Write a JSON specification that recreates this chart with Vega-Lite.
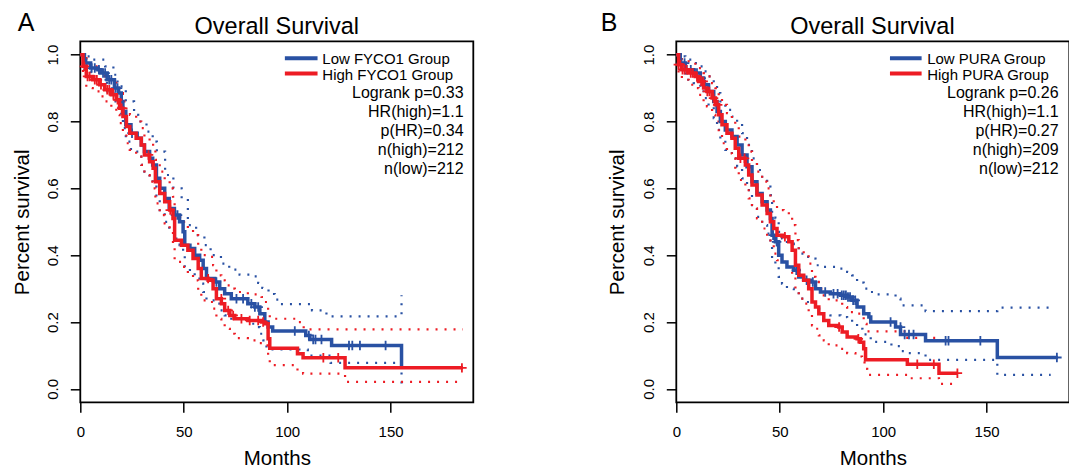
{
"$schema":"https://vega.github.io/schema/vega-lite/v6.json",
"autosize":{"type":"pad"},
"padding":{"left":10.3,"top":9.3,"right":0,"bottom":0},
"background":"white",
"bounds":"flush",
"spacing":203,
"datasets":{
"km":[
{"p":"A","g":"low","k":"curve","t":0,"s":1},{"p":"A","g":"low","k":"curve","t":2,"s":0.975},{"p":"A","g":"low","k":"curve","t":5,"s":0.96},{"p":"A","g":"low","k":"curve","t":8.5,"s":0.955},{"p":"A","g":"low","k":"curve","t":10,"s":0.945},{"p":"A","g":"low","k":"curve","t":13,"s":0.925},{"p":"A","g":"low","k":"curve","t":16.5,"s":0.9},{"p":"A","g":"low","k":"curve","t":18.5,"s":0.885},{"p":"A","g":"low","k":"curve","t":19.8,"s":0.86},{"p":"A","g":"low","k":"curve","t":20.6,"s":0.83},{"p":"A","g":"low","k":"curve","t":22,"s":0.79},{"p":"A","g":"low","k":"curve","t":24.5,"s":0.765},{"p":"A","g":"low","k":"curve","t":27.5,"s":0.75},{"p":"A","g":"low","k":"curve","t":29.5,"s":0.73},{"p":"A","g":"low","k":"curve","t":31,"s":0.71},{"p":"A","g":"low","k":"curve","t":33.5,"s":0.69},{"p":"A","g":"low","k":"curve","t":35,"s":0.67},{"p":"A","g":"low","k":"curve","t":36.8,"s":0.63},{"p":"A","g":"low","k":"curve","t":38.4,"s":0.6},{"p":"A","g":"low","k":"curve","t":40.8,"s":0.57},{"p":"A","g":"low","k":"curve","t":43,"s":0.54},{"p":"A","g":"low","k":"curve","t":45.5,"s":0.52},{"p":"A","g":"low","k":"curve","t":48,"s":0.5},{"p":"A","g":"low","k":"curve","t":49.7,"s":0.47},{"p":"A","g":"low","k":"curve","t":50.5,"s":0.43},{"p":"A","g":"low","k":"curve","t":53,"s":0.42},{"p":"A","g":"low","k":"curve","t":55.3,"s":0.4},{"p":"A","g":"low","k":"curve","t":57.7,"s":0.385},{"p":"A","g":"low","k":"curve","t":59.4,"s":0.36},{"p":"A","g":"low","k":"curve","t":61,"s":0.33},{"p":"A","g":"low","k":"curve","t":65,"s":0.32},{"p":"A","g":"low","k":"curve","t":67.4,"s":0.3},{"p":"A","g":"low","k":"curve","t":69.8,"s":0.285},{"p":"A","g":"low","k":"curve","t":73,"s":0.27},{"p":"A","g":"low","k":"curve","t":81,"s":0.255},{"p":"A","g":"low","k":"curve","t":84.4,"s":0.245},{"p":"A","g":"low","k":"curve","t":86.8,"s":0.225},{"p":"A","g":"low","k":"curve","t":89.2,"s":0.2},{"p":"A","g":"low","k":"curve","t":90.8,"s":0.185},{"p":"A","g":"low","k":"curve","t":93,"s":0.173},{"p":"A","g":"low","k":"curve","t":109,"s":0.16},{"p":"A","g":"low","k":"curve","t":111,"s":0.148},{"p":"A","g":"low","k":"curve","t":121.5,"s":0.13},{"p":"A","g":"low","k":"curve","t":155.3,"s":0.063},

{"p":"A","g":"low","k":"up","t":0,"s":1},{"p":"A","g":"low","k":"up","t":3,"s":0.995},{"p":"A","g":"low","k":"up","t":6,"s":0.985},{"p":"A","g":"low","k":"up","t":12,"s":0.965},{"p":"A","g":"low","k":"up","t":16,"s":0.94},{"p":"A","g":"low","k":"up","t":18,"s":0.905},{"p":"A","g":"low","k":"up","t":22,"s":0.86},{"p":"A","g":"low","k":"up","t":26,"s":0.82},{"p":"A","g":"low","k":"up","t":28,"s":0.8},{"p":"A","g":"low","k":"up","t":32,"s":0.77},{"p":"A","g":"low","k":"up","t":35,"s":0.74},{"p":"A","g":"low","k":"up","t":37,"s":0.71},{"p":"A","g":"low","k":"up","t":41,"s":0.64},{"p":"A","g":"low","k":"up","t":45,"s":0.6},{"p":"A","g":"low","k":"up","t":49,"s":0.57},{"p":"A","g":"low","k":"up","t":52,"s":0.49},{"p":"A","g":"low","k":"up","t":56,"s":0.46},{"p":"A","g":"low","k":"up","t":60,"s":0.43},{"p":"A","g":"low","k":"up","t":63,"s":0.4},{"p":"A","g":"low","k":"up","t":68,"s":0.375},{"p":"A","g":"low","k":"up","t":72,"s":0.357},{"p":"A","g":"low","k":"up","t":77,"s":0.342},{"p":"A","g":"low","k":"up","t":83,"s":0.337},{"p":"A","g":"low","k":"up","t":86,"s":0.317},{"p":"A","g":"low","k":"up","t":88,"s":0.302},{"p":"A","g":"low","k":"up","t":91,"s":0.284},{"p":"A","g":"low","k":"up","t":94,"s":0.267},{"p":"A","g":"low","k":"up","t":96,"s":0.254},{"p":"A","g":"low","k":"up","t":112,"s":0.235},{"p":"A","g":"low","k":"up","t":119,"s":0.217},{"p":"A","g":"low","k":"up","t":155.3,"s":0.28},

{"p":"A","g":"low","k":"lo","t":0,"s":1},{"p":"A","g":"low","k":"lo","t":2,"s":0.95},{"p":"A","g":"low","k":"lo","t":5,"s":0.93},{"p":"A","g":"low","k":"lo","t":8.5,"s":0.925},{"p":"A","g":"low","k":"lo","t":10,"s":0.915},{"p":"A","g":"low","k":"lo","t":13,"s":0.89},{"p":"A","g":"low","k":"lo","t":16.5,"s":0.86},{"p":"A","g":"low","k":"lo","t":18.5,"s":0.84},{"p":"A","g":"low","k":"lo","t":19.8,"s":0.815},{"p":"A","g":"low","k":"lo","t":20.6,"s":0.78},{"p":"A","g":"low","k":"lo","t":22,"s":0.74},{"p":"A","g":"low","k":"lo","t":24.5,"s":0.71},{"p":"A","g":"low","k":"lo","t":27.5,"s":0.695},{"p":"A","g":"low","k":"lo","t":29.5,"s":0.67},{"p":"A","g":"low","k":"lo","t":31,"s":0.65},{"p":"A","g":"low","k":"lo","t":33.5,"s":0.625},{"p":"A","g":"low","k":"lo","t":35,"s":0.605},{"p":"A","g":"low","k":"lo","t":36.8,"s":0.565},{"p":"A","g":"low","k":"lo","t":38.4,"s":0.53},{"p":"A","g":"low","k":"lo","t":40.8,"s":0.5},{"p":"A","g":"low","k":"lo","t":43,"s":0.47},{"p":"A","g":"low","k":"lo","t":45.5,"s":0.45},{"p":"A","g":"low","k":"lo","t":48,"s":0.43},{"p":"A","g":"low","k":"lo","t":49.7,"s":0.4},{"p":"A","g":"low","k":"lo","t":50.5,"s":0.36},{"p":"A","g":"low","k":"lo","t":53,"s":0.35},{"p":"A","g":"low","k":"lo","t":55.3,"s":0.33},{"p":"A","g":"low","k":"lo","t":57.7,"s":0.315},{"p":"A","g":"low","k":"lo","t":59.4,"s":0.29},{"p":"A","g":"low","k":"lo","t":61,"s":0.265},{"p":"A","g":"low","k":"lo","t":65,"s":0.255},{"p":"A","g":"low","k":"lo","t":67.4,"s":0.235},{"p":"A","g":"low","k":"lo","t":69.8,"s":0.22},{"p":"A","g":"low","k":"lo","t":73,"s":0.21},{"p":"A","g":"low","k":"lo","t":81,"s":0.195},{"p":"A","g":"low","k":"lo","t":84.4,"s":0.185},{"p":"A","g":"low","k":"lo","t":86.8,"s":0.165},{"p":"A","g":"low","k":"lo","t":88.5,"s":0.145},{"p":"A","g":"low","k":"lo","t":90,"s":0.118},{"p":"A","g":"low","k":"lo","t":110,"s":0.1},{"p":"A","g":"low","k":"lo","t":121,"s":0.078},{"p":"A","g":"low","k":"lo","t":155.3,"s":0.012},

{"p":"A","g":"high","k":"curve","t":0,"s":1},{"p":"A","g":"high","k":"curve","t":1.3,"s":0.965},{"p":"A","g":"high","k":"curve","t":2.9,"s":0.935},{"p":"A","g":"high","k":"curve","t":6,"s":0.925},{"p":"A","g":"high","k":"curve","t":9.4,"s":0.91},{"p":"A","g":"high","k":"curve","t":11.8,"s":0.895},{"p":"A","g":"high","k":"curve","t":15,"s":0.88},{"p":"A","g":"high","k":"curve","t":17.4,"s":0.865},{"p":"A","g":"high","k":"curve","t":19,"s":0.84},{"p":"A","g":"high","k":"curve","t":20.6,"s":0.815},{"p":"A","g":"high","k":"curve","t":22.3,"s":0.785},{"p":"A","g":"high","k":"curve","t":23.9,"s":0.765},{"p":"A","g":"high","k":"curve","t":27,"s":0.75},{"p":"A","g":"high","k":"curve","t":29.5,"s":0.73},{"p":"A","g":"high","k":"curve","t":31,"s":0.7},{"p":"A","g":"high","k":"curve","t":33.5,"s":0.68},{"p":"A","g":"high","k":"curve","t":35.2,"s":0.66},{"p":"A","g":"high","k":"curve","t":36.3,"s":0.62},{"p":"A","g":"high","k":"curve","t":38.4,"s":0.585},{"p":"A","g":"high","k":"curve","t":40.8,"s":0.56},{"p":"A","g":"high","k":"curve","t":43.2,"s":0.535},{"p":"A","g":"high","k":"curve","t":44.8,"s":0.51},{"p":"A","g":"high","k":"curve","t":45.6,"s":0.445},{"p":"A","g":"high","k":"curve","t":48.9,"s":0.43},{"p":"A","g":"high","k":"curve","t":52,"s":0.415},{"p":"A","g":"high","k":"curve","t":54.5,"s":0.39},{"p":"A","g":"high","k":"curve","t":57,"s":0.36},{"p":"A","g":"high","k":"curve","t":58.5,"s":0.33},{"p":"A","g":"high","k":"curve","t":61.8,"s":0.325},{"p":"A","g":"high","k":"curve","t":64.2,"s":0.3},{"p":"A","g":"high","k":"curve","t":65.8,"s":0.27},{"p":"A","g":"high","k":"curve","t":68.2,"s":0.255},{"p":"A","g":"high","k":"curve","t":69.8,"s":0.235},{"p":"A","g":"high","k":"curve","t":72.3,"s":0.22},{"p":"A","g":"high","k":"curve","t":74.7,"s":0.21},{"p":"A","g":"high","k":"curve","t":81,"s":0.205},{"p":"A","g":"high","k":"curve","t":87.6,"s":0.2},{"p":"A","g":"high","k":"curve","t":89.2,"s":0.195},{"p":"A","g":"high","k":"curve","t":90.8,"s":0.15},{"p":"A","g":"high","k":"curve","t":91.6,"s":0.122},{"p":"A","g":"high","k":"curve","t":105,"s":0.105},{"p":"A","g":"high","k":"curve","t":107.7,"s":0.093},{"p":"A","g":"high","k":"curve","t":128,"s":0.063},{"p":"A","g":"high","k":"curve","t":185,"s":0.063},

{"p":"A","g":"high","k":"up","t":0,"s":1},{"p":"A","g":"high","k":"up","t":1.3,"s":0.99},{"p":"A","g":"high","k":"up","t":3,"s":0.975},{"p":"A","g":"high","k":"up","t":6,"s":0.965},{"p":"A","g":"high","k":"up","t":9.4,"s":0.95},{"p":"A","g":"high","k":"up","t":12,"s":0.935},{"p":"A","g":"high","k":"up","t":15,"s":0.92},{"p":"A","g":"high","k":"up","t":17.4,"s":0.905},{"p":"A","g":"high","k":"up","t":19,"s":0.885},{"p":"A","g":"high","k":"up","t":20.6,"s":0.86},{"p":"A","g":"high","k":"up","t":22.3,"s":0.835},{"p":"A","g":"high","k":"up","t":24,"s":0.82},{"p":"A","g":"high","k":"up","t":27,"s":0.8},{"p":"A","g":"high","k":"up","t":29.5,"s":0.78},{"p":"A","g":"high","k":"up","t":31,"s":0.755},{"p":"A","g":"high","k":"up","t":33.5,"s":0.74},{"p":"A","g":"high","k":"up","t":35.2,"s":0.72},{"p":"A","g":"high","k":"up","t":36.3,"s":0.685},{"p":"A","g":"high","k":"up","t":38.4,"s":0.65},{"p":"A","g":"high","k":"up","t":40.8,"s":0.625},{"p":"A","g":"high","k":"up","t":43.2,"s":0.6},{"p":"A","g":"high","k":"up","t":44.8,"s":0.575},{"p":"A","g":"high","k":"up","t":45.6,"s":0.515},{"p":"A","g":"high","k":"up","t":48.9,"s":0.5},{"p":"A","g":"high","k":"up","t":52,"s":0.48},{"p":"A","g":"high","k":"up","t":54.5,"s":0.46},{"p":"A","g":"high","k":"up","t":57,"s":0.43},{"p":"A","g":"high","k":"up","t":58.5,"s":0.4},{"p":"A","g":"high","k":"up","t":61.8,"s":0.395},{"p":"A","g":"high","k":"up","t":64.2,"s":0.37},{"p":"A","g":"high","k":"up","t":65.8,"s":0.34},{"p":"A","g":"high","k":"up","t":68.2,"s":0.325},{"p":"A","g":"high","k":"up","t":69.8,"s":0.31},{"p":"A","g":"high","k":"up","t":72.3,"s":0.3},{"p":"A","g":"high","k":"up","t":74.7,"s":0.29},{"p":"A","g":"high","k":"up","t":81,"s":0.283},{"p":"A","g":"high","k":"up","t":87.6,"s":0.275},{"p":"A","g":"high","k":"up","t":89.2,"s":0.26},{"p":"A","g":"high","k":"up","t":90.8,"s":0.235},{"p":"A","g":"high","k":"up","t":91.6,"s":0.21},{"p":"A","g":"high","k":"up","t":105,"s":0.2},{"p":"A","g":"high","k":"up","t":108,"s":0.178},{"p":"A","g":"high","k":"up","t":185,"s":0.178},

{"p":"A","g":"high","k":"lo","t":0,"s":1},{"p":"A","g":"high","k":"lo","t":1.3,"s":0.94},{"p":"A","g":"high","k":"lo","t":2.9,"s":0.9},{"p":"A","g":"high","k":"lo","t":6,"s":0.89},{"p":"A","g":"high","k":"lo","t":9.4,"s":0.875},{"p":"A","g":"high","k":"lo","t":11.8,"s":0.86},{"p":"A","g":"high","k":"lo","t":15,"s":0.84},{"p":"A","g":"high","k":"lo","t":17.4,"s":0.82},{"p":"A","g":"high","k":"lo","t":19,"s":0.795},{"p":"A","g":"high","k":"lo","t":20.6,"s":0.765},{"p":"A","g":"high","k":"lo","t":22.3,"s":0.735},{"p":"A","g":"high","k":"lo","t":23.9,"s":0.715},{"p":"A","g":"high","k":"lo","t":27,"s":0.695},{"p":"A","g":"high","k":"lo","t":29.5,"s":0.67},{"p":"A","g":"high","k":"lo","t":31,"s":0.64},{"p":"A","g":"high","k":"lo","t":33.5,"s":0.62},{"p":"A","g":"high","k":"lo","t":35.2,"s":0.6},{"p":"A","g":"high","k":"lo","t":36.3,"s":0.555},{"p":"A","g":"high","k":"lo","t":38.4,"s":0.52},{"p":"A","g":"high","k":"lo","t":40.8,"s":0.495},{"p":"A","g":"high","k":"lo","t":43.2,"s":0.47},{"p":"A","g":"high","k":"lo","t":44.8,"s":0.44},{"p":"A","g":"high","k":"lo","t":45.6,"s":0.38},{"p":"A","g":"high","k":"lo","t":48.9,"s":0.365},{"p":"A","g":"high","k":"lo","t":52,"s":0.345},{"p":"A","g":"high","k":"lo","t":54.5,"s":0.325},{"p":"A","g":"high","k":"lo","t":57,"s":0.295},{"p":"A","g":"high","k":"lo","t":58.5,"s":0.265},{"p":"A","g":"high","k":"lo","t":61.8,"s":0.26},{"p":"A","g":"high","k":"lo","t":64.2,"s":0.24},{"p":"A","g":"high","k":"lo","t":65.8,"s":0.21},{"p":"A","g":"high","k":"lo","t":68.2,"s":0.195},{"p":"A","g":"high","k":"lo","t":69.8,"s":0.18},{"p":"A","g":"high","k":"lo","t":72.3,"s":0.165},{"p":"A","g":"high","k":"lo","t":74.7,"s":0.152},{"p":"A","g":"high","k":"lo","t":81,"s":0.145},{"p":"A","g":"high","k":"lo","t":85,"s":0.137},{"p":"A","g":"high","k":"lo","t":89.2,"s":0.13},{"p":"A","g":"high","k":"lo","t":90.8,"s":0.1},{"p":"A","g":"high","k":"lo","t":91.6,"s":0.071},{"p":"A","g":"high","k":"lo","t":105,"s":0.055},{"p":"A","g":"high","k":"lo","t":107.7,"s":0.046},{"p":"A","g":"high","k":"lo","t":128,"s":0.021},{"p":"A","g":"high","k":"lo","t":185,"s":0.021},

{"p":"B","g":"low","k":"curve","t":0,"s":1},{"p":"B","g":"low","k":"curve","t":1.9,"s":0.975},{"p":"B","g":"low","k":"curve","t":4.4,"s":0.955},{"p":"B","g":"low","k":"curve","t":8.4,"s":0.945},{"p":"B","g":"low","k":"curve","t":11.6,"s":0.93},{"p":"B","g":"low","k":"curve","t":13.2,"s":0.91},{"p":"B","g":"low","k":"curve","t":15.6,"s":0.89},{"p":"B","g":"low","k":"curve","t":18.1,"s":0.86},{"p":"B","g":"low","k":"curve","t":19.7,"s":0.83},{"p":"B","g":"low","k":"curve","t":21.3,"s":0.8},{"p":"B","g":"low","k":"curve","t":23.7,"s":0.775},{"p":"B","g":"low","k":"curve","t":26.9,"s":0.755},{"p":"B","g":"low","k":"curve","t":29.4,"s":0.73},{"p":"B","g":"low","k":"curve","t":31.8,"s":0.7},{"p":"B","g":"low","k":"curve","t":34.2,"s":0.665},{"p":"B","g":"low","k":"curve","t":36.6,"s":0.62},{"p":"B","g":"low","k":"curve","t":39,"s":0.585},{"p":"B","g":"low","k":"curve","t":41.5,"s":0.56},{"p":"B","g":"low","k":"curve","t":43.9,"s":0.535},{"p":"B","g":"low","k":"curve","t":45.5,"s":0.51},{"p":"B","g":"low","k":"curve","t":46.3,"s":0.46},{"p":"B","g":"low","k":"curve","t":47.9,"s":0.44},{"p":"B","g":"low","k":"curve","t":49.5,"s":0.4},{"p":"B","g":"low","k":"curve","t":51.1,"s":0.38},{"p":"B","g":"low","k":"curve","t":53.5,"s":0.365},{"p":"B","g":"low","k":"curve","t":56.8,"s":0.355},{"p":"B","g":"low","k":"curve","t":59.2,"s":0.335},{"p":"B","g":"low","k":"curve","t":61.6,"s":0.325},{"p":"B","g":"low","k":"curve","t":64.8,"s":0.32},{"p":"B","g":"low","k":"curve","t":67.3,"s":0.3},{"p":"B","g":"low","k":"curve","t":69.7,"s":0.29},{"p":"B","g":"low","k":"curve","t":74.5,"s":0.285},{"p":"B","g":"low","k":"curve","t":79.4,"s":0.28},{"p":"B","g":"low","k":"curve","t":82.6,"s":0.275},{"p":"B","g":"low","k":"curve","t":85,"s":0.265},{"p":"B","g":"low","k":"curve","t":87.4,"s":0.245},{"p":"B","g":"low","k":"curve","t":90.6,"s":0.225},{"p":"B","g":"low","k":"curve","t":93.1,"s":0.215},{"p":"B","g":"low","k":"curve","t":94,"s":0.2},{"p":"B","g":"low","k":"curve","t":106,"s":0.185},{"p":"B","g":"low","k":"curve","t":108.4,"s":0.163},{"p":"B","g":"low","k":"curve","t":120.5,"s":0.144},{"p":"B","g":"low","k":"curve","t":155.2,"s":0.094},{"p":"B","g":"low","k":"curve","t":184.5,"s":0.094},

{"p":"B","g":"low","k":"up","t":0,"s":1},{"p":"B","g":"low","k":"up","t":1.9,"s":0.995},{"p":"B","g":"low","k":"up","t":4.4,"s":0.985},{"p":"B","g":"low","k":"up","t":8.4,"s":0.975},{"p":"B","g":"low","k":"up","t":11.6,"s":0.965},{"p":"B","g":"low","k":"up","t":13.2,"s":0.95},{"p":"B","g":"low","k":"up","t":15.6,"s":0.935},{"p":"B","g":"low","k":"up","t":18.1,"s":0.91},{"p":"B","g":"low","k":"up","t":19.7,"s":0.885},{"p":"B","g":"low","k":"up","t":21.3,"s":0.86},{"p":"B","g":"low","k":"up","t":23.7,"s":0.835},{"p":"B","g":"low","k":"up","t":26.9,"s":0.815},{"p":"B","g":"low","k":"up","t":29.4,"s":0.795},{"p":"B","g":"low","k":"up","t":31.8,"s":0.765},{"p":"B","g":"low","k":"up","t":34.2,"s":0.73},{"p":"B","g":"low","k":"up","t":36.6,"s":0.69},{"p":"B","g":"low","k":"up","t":39,"s":0.655},{"p":"B","g":"low","k":"up","t":41.5,"s":0.63},{"p":"B","g":"low","k":"up","t":43.9,"s":0.605},{"p":"B","g":"low","k":"up","t":45.5,"s":0.58},{"p":"B","g":"low","k":"up","t":46.3,"s":0.53},{"p":"B","g":"low","k":"up","t":47.9,"s":0.51},{"p":"B","g":"low","k":"up","t":49.5,"s":0.47},{"p":"B","g":"low","k":"up","t":51.1,"s":0.45},{"p":"B","g":"low","k":"up","t":53.5,"s":0.435},{"p":"B","g":"low","k":"up","t":56.8,"s":0.425},{"p":"B","g":"low","k":"up","t":59.2,"s":0.405},{"p":"B","g":"low","k":"up","t":61.6,"s":0.395},{"p":"B","g":"low","k":"up","t":64.8,"s":0.39},{"p":"B","g":"low","k":"up","t":67.3,"s":0.37},{"p":"B","g":"low","k":"up","t":69.7,"s":0.365},{"p":"B","g":"low","k":"up","t":77.8,"s":0.36},{"p":"B","g":"low","k":"up","t":82.6,"s":0.35},{"p":"B","g":"low","k":"up","t":85,"s":0.34},{"p":"B","g":"low","k":"up","t":87.4,"s":0.318},{"p":"B","g":"low","k":"up","t":90.6,"s":0.3},{"p":"B","g":"low","k":"up","t":93.1,"s":0.29},{"p":"B","g":"low","k":"up","t":96,"s":0.283},{"p":"B","g":"low","k":"up","t":106,"s":0.27},{"p":"B","g":"low","k":"up","t":108.4,"s":0.25},{"p":"B","g":"low","k":"up","t":120.5,"s":0.233},{"p":"B","g":"low","k":"up","t":155.2,"s":0.243},{"p":"B","g":"low","k":"up","t":181,"s":0.243},

{"p":"B","g":"low","k":"lo","t":0,"s":1},{"p":"B","g":"low","k":"lo","t":1.9,"s":0.95},{"p":"B","g":"low","k":"lo","t":4.4,"s":0.925},{"p":"B","g":"low","k":"lo","t":8.4,"s":0.915},{"p":"B","g":"low","k":"lo","t":11.6,"s":0.895},{"p":"B","g":"low","k":"lo","t":13.2,"s":0.87},{"p":"B","g":"low","k":"lo","t":15.6,"s":0.845},{"p":"B","g":"low","k":"lo","t":18.1,"s":0.81},{"p":"B","g":"low","k":"lo","t":19.7,"s":0.775},{"p":"B","g":"low","k":"lo","t":21.3,"s":0.745},{"p":"B","g":"low","k":"lo","t":23.7,"s":0.715},{"p":"B","g":"low","k":"lo","t":26.9,"s":0.69},{"p":"B","g":"low","k":"lo","t":29.4,"s":0.665},{"p":"B","g":"low","k":"lo","t":31.8,"s":0.63},{"p":"B","g":"low","k":"lo","t":34.2,"s":0.595},{"p":"B","g":"low","k":"lo","t":36.6,"s":0.55},{"p":"B","g":"low","k":"lo","t":39,"s":0.515},{"p":"B","g":"low","k":"lo","t":41.5,"s":0.49},{"p":"B","g":"low","k":"lo","t":43.9,"s":0.465},{"p":"B","g":"low","k":"lo","t":45.5,"s":0.44},{"p":"B","g":"low","k":"lo","t":46.3,"s":0.39},{"p":"B","g":"low","k":"lo","t":47.9,"s":0.37},{"p":"B","g":"low","k":"lo","t":49.5,"s":0.335},{"p":"B","g":"low","k":"lo","t":51.1,"s":0.315},{"p":"B","g":"low","k":"lo","t":53.5,"s":0.3},{"p":"B","g":"low","k":"lo","t":56.8,"s":0.29},{"p":"B","g":"low","k":"lo","t":59.2,"s":0.27},{"p":"B","g":"low","k":"lo","t":61.6,"s":0.26},{"p":"B","g":"low","k":"lo","t":64.8,"s":0.255},{"p":"B","g":"low","k":"lo","t":67.3,"s":0.24},{"p":"B","g":"low","k":"lo","t":69.7,"s":0.225},{"p":"B","g":"low","k":"lo","t":74.5,"s":0.22},{"p":"B","g":"low","k":"lo","t":79.4,"s":0.215},{"p":"B","g":"low","k":"lo","t":82.6,"s":0.21},{"p":"B","g":"low","k":"lo","t":85,"s":0.2},{"p":"B","g":"low","k":"lo","t":87.4,"s":0.18},{"p":"B","g":"low","k":"lo","t":90,"s":0.163},{"p":"B","g":"low","k":"lo","t":94,"s":0.141},{"p":"B","g":"low","k":"lo","t":104,"s":0.128},{"p":"B","g":"low","k":"lo","t":108.4,"s":0.113},{"p":"B","g":"low","k":"lo","t":110,"s":0.107},{"p":"B","g":"low","k":"lo","t":120.5,"s":0.087},{"p":"B","g":"low","k":"lo","t":155.2,"s":0.042},{"p":"B","g":"low","k":"lo","t":181,"s":0.042},

{"p":"B","g":"high","k":"curve","t":0,"s":1},{"p":"B","g":"high","k":"curve","t":1.1,"s":0.97},{"p":"B","g":"high","k":"curve","t":2.7,"s":0.955},{"p":"B","g":"high","k":"curve","t":6,"s":0.945},{"p":"B","g":"high","k":"curve","t":9.2,"s":0.935},{"p":"B","g":"high","k":"curve","t":10.8,"s":0.92},{"p":"B","g":"high","k":"curve","t":13.2,"s":0.9},{"p":"B","g":"high","k":"curve","t":14.8,"s":0.89},{"p":"B","g":"high","k":"curve","t":17.3,"s":0.87},{"p":"B","g":"high","k":"curve","t":18.9,"s":0.85},{"p":"B","g":"high","k":"curve","t":20.5,"s":0.82},{"p":"B","g":"high","k":"curve","t":22.1,"s":0.79},{"p":"B","g":"high","k":"curve","t":24.5,"s":0.765},{"p":"B","g":"high","k":"curve","t":26.9,"s":0.75},{"p":"B","g":"high","k":"curve","t":28.5,"s":0.72},{"p":"B","g":"high","k":"curve","t":30.2,"s":0.69},{"p":"B","g":"high","k":"curve","t":33.4,"s":0.67},{"p":"B","g":"high","k":"curve","t":35,"s":0.64},{"p":"B","g":"high","k":"curve","t":36.6,"s":0.61},{"p":"B","g":"high","k":"curve","t":39,"s":0.58},{"p":"B","g":"high","k":"curve","t":41.5,"s":0.55},{"p":"B","g":"high","k":"curve","t":43.9,"s":0.525},{"p":"B","g":"high","k":"curve","t":45.5,"s":0.5},{"p":"B","g":"high","k":"curve","t":47.1,"s":0.48},{"p":"B","g":"high","k":"curve","t":48.7,"s":0.46},{"p":"B","g":"high","k":"curve","t":51.9,"s":0.455},{"p":"B","g":"high","k":"curve","t":54.4,"s":0.44},{"p":"B","g":"high","k":"curve","t":56,"s":0.415},{"p":"B","g":"high","k":"curve","t":57.6,"s":0.37},{"p":"B","g":"high","k":"curve","t":59.2,"s":0.34},{"p":"B","g":"high","k":"curve","t":61.6,"s":0.325},{"p":"B","g":"high","k":"curve","t":64,"s":0.3},{"p":"B","g":"high","k":"curve","t":65.6,"s":0.26},{"p":"B","g":"high","k":"curve","t":67.3,"s":0.245},{"p":"B","g":"high","k":"curve","t":68.9,"s":0.225},{"p":"B","g":"high","k":"curve","t":71.3,"s":0.205},{"p":"B","g":"high","k":"curve","t":73.7,"s":0.19},{"p":"B","g":"high","k":"curve","t":78.5,"s":0.185},{"p":"B","g":"high","k":"curve","t":80.2,"s":0.17},{"p":"B","g":"high","k":"curve","t":82.6,"s":0.155},{"p":"B","g":"high","k":"curve","t":87.4,"s":0.15},{"p":"B","g":"high","k":"curve","t":89,"s":0.14},{"p":"B","g":"high","k":"curve","t":90.6,"s":0.12},{"p":"B","g":"high","k":"curve","t":91.5,"s":0.087},{"p":"B","g":"high","k":"curve","t":111.7,"s":0.074},{"p":"B","g":"high","k":"curve","t":127,"s":0.047},{"p":"B","g":"high","k":"curve","t":136,"s":0.047},

{"p":"B","g":"high","k":"up","t":0,"s":1},{"p":"B","g":"high","k":"up","t":1.1,"s":0.995},{"p":"B","g":"high","k":"up","t":2.7,"s":0.985},{"p":"B","g":"high","k":"up","t":6,"s":0.98},{"p":"B","g":"high","k":"up","t":9.2,"s":0.97},{"p":"B","g":"high","k":"up","t":10.8,"s":0.96},{"p":"B","g":"high","k":"up","t":13.2,"s":0.945},{"p":"B","g":"high","k":"up","t":14.8,"s":0.935},{"p":"B","g":"high","k":"up","t":17.3,"s":0.915},{"p":"B","g":"high","k":"up","t":18.9,"s":0.9},{"p":"B","g":"high","k":"up","t":20.5,"s":0.875},{"p":"B","g":"high","k":"up","t":22.1,"s":0.85},{"p":"B","g":"high","k":"up","t":24.5,"s":0.825},{"p":"B","g":"high","k":"up","t":26.9,"s":0.81},{"p":"B","g":"high","k":"up","t":28.5,"s":0.785},{"p":"B","g":"high","k":"up","t":30.2,"s":0.755},{"p":"B","g":"high","k":"up","t":33.4,"s":0.735},{"p":"B","g":"high","k":"up","t":35,"s":0.71},{"p":"B","g":"high","k":"up","t":36.6,"s":0.68},{"p":"B","g":"high","k":"up","t":39,"s":0.65},{"p":"B","g":"high","k":"up","t":41.5,"s":0.62},{"p":"B","g":"high","k":"up","t":43.9,"s":0.6},{"p":"B","g":"high","k":"up","t":45.5,"s":0.575},{"p":"B","g":"high","k":"up","t":47.1,"s":0.555},{"p":"B","g":"high","k":"up","t":48.7,"s":0.535},{"p":"B","g":"high","k":"up","t":51.9,"s":0.53},{"p":"B","g":"high","k":"up","t":54.4,"s":0.515},{"p":"B","g":"high","k":"up","t":56,"s":0.49},{"p":"B","g":"high","k":"up","t":57.6,"s":0.445},{"p":"B","g":"high","k":"up","t":59.2,"s":0.415},{"p":"B","g":"high","k":"up","t":61.6,"s":0.4},{"p":"B","g":"high","k":"up","t":64,"s":0.375},{"p":"B","g":"high","k":"up","t":65.6,"s":0.335},{"p":"B","g":"high","k":"up","t":67.3,"s":0.32},{"p":"B","g":"high","k":"up","t":68.9,"s":0.3},{"p":"B","g":"high","k":"up","t":71.3,"s":0.28},{"p":"B","g":"high","k":"up","t":73.7,"s":0.265},{"p":"B","g":"high","k":"up","t":78.5,"s":0.26},{"p":"B","g":"high","k":"up","t":80.2,"s":0.245},{"p":"B","g":"high","k":"up","t":82.6,"s":0.23},{"p":"B","g":"high","k":"up","t":87.4,"s":0.225},{"p":"B","g":"high","k":"up","t":89,"s":0.215},{"p":"B","g":"high","k":"up","t":90.6,"s":0.195},{"p":"B","g":"high","k":"up","t":92,"s":0.172},{"p":"B","g":"high","k":"up","t":111.7,"s":0.153},{"p":"B","g":"high","k":"up","t":127,"s":0.144},{"p":"B","g":"high","k":"up","t":136,"s":0.144},

{"p":"B","g":"high","k":"lo","t":0,"s":1},{"p":"B","g":"high","k":"lo","t":1.1,"s":0.945},{"p":"B","g":"high","k":"lo","t":2.7,"s":0.925},{"p":"B","g":"high","k":"lo","t":6,"s":0.91},{"p":"B","g":"high","k":"lo","t":9.2,"s":0.9},{"p":"B","g":"high","k":"lo","t":10.8,"s":0.88},{"p":"B","g":"high","k":"lo","t":13.2,"s":0.855},{"p":"B","g":"high","k":"lo","t":14.8,"s":0.845},{"p":"B","g":"high","k":"lo","t":17.3,"s":0.82},{"p":"B","g":"high","k":"lo","t":18.9,"s":0.8},{"p":"B","g":"high","k":"lo","t":20.5,"s":0.765},{"p":"B","g":"high","k":"lo","t":22.1,"s":0.735},{"p":"B","g":"high","k":"lo","t":24.5,"s":0.705},{"p":"B","g":"high","k":"lo","t":26.9,"s":0.69},{"p":"B","g":"high","k":"lo","t":28.5,"s":0.655},{"p":"B","g":"high","k":"lo","t":30.2,"s":0.625},{"p":"B","g":"high","k":"lo","t":33.4,"s":0.6},{"p":"B","g":"high","k":"lo","t":35,"s":0.57},{"p":"B","g":"high","k":"lo","t":36.6,"s":0.54},{"p":"B","g":"high","k":"lo","t":39,"s":0.51},{"p":"B","g":"high","k":"lo","t":41.5,"s":0.48},{"p":"B","g":"high","k":"lo","t":43.9,"s":0.455},{"p":"B","g":"high","k":"lo","t":45.5,"s":0.43},{"p":"B","g":"high","k":"lo","t":47.1,"s":0.405},{"p":"B","g":"high","k":"lo","t":48.7,"s":0.385},{"p":"B","g":"high","k":"lo","t":51.9,"s":0.38},{"p":"B","g":"high","k":"lo","t":54.4,"s":0.365},{"p":"B","g":"high","k":"lo","t":56,"s":0.34},{"p":"B","g":"high","k":"lo","t":57.6,"s":0.3},{"p":"B","g":"high","k":"lo","t":59.2,"s":0.27},{"p":"B","g":"high","k":"lo","t":61.6,"s":0.255},{"p":"B","g":"high","k":"lo","t":64,"s":0.23},{"p":"B","g":"high","k":"lo","t":65.6,"s":0.19},{"p":"B","g":"high","k":"lo","t":67.3,"s":0.18},{"p":"B","g":"high","k":"lo","t":68.9,"s":0.16},{"p":"B","g":"high","k":"lo","t":71.3,"s":0.145},{"p":"B","g":"high","k":"lo","t":73.7,"s":0.13},{"p":"B","g":"high","k":"lo","t":78.5,"s":0.12},{"p":"B","g":"high","k":"lo","t":82.6,"s":0.107},{"p":"B","g":"high","k":"lo","t":86.6,"s":0.097},{"p":"B","g":"high","k":"lo","t":89.8,"s":0.082},{"p":"B","g":"high","k":"lo","t":91,"s":0.06},{"p":"B","g":"high","k":"lo","t":92.3,"s":0.042},{"p":"B","g":"high","k":"lo","t":111.7,"s":0.032},{"p":"B","g":"high","k":"lo","t":127,"s":0.015},{"p":"B","g":"high","k":"lo","t":136,"s":0.015}
],
"cens":[
{"p":"A","g":"low","t":3,"s":0.975},{"p":"A","g":"low","t":5.5,"s":0.96},{"p":"A","g":"low","t":7,"s":0.96},{"p":"A","g":"low","t":9,"s":0.955},{"p":"A","g":"low","t":11,"s":0.945},{"p":"A","g":"low","t":12,"s":0.945},{"p":"A","g":"low","t":14,"s":0.925},{"p":"A","g":"low","t":15,"s":0.925},{"p":"A","g":"low","t":17,"s":0.9},{"p":"A","g":"low","t":18,"s":0.9},{"p":"A","g":"low","t":25,"s":0.765},{"p":"A","g":"low","t":46,"s":0.52},{"p":"A","g":"low","t":47,"s":0.52},{"p":"A","g":"low","t":65.8,"s":0.32},{"p":"A","g":"low","t":75.5,"s":0.27},{"p":"A","g":"low","t":78.7,"s":0.27},{"p":"A","g":"low","t":82.7,"s":0.255},{"p":"A","g":"low","t":84.4,"s":0.245},{"p":"A","g":"low","t":86,"s":0.245},{"p":"A","g":"low","t":103.7,"s":0.173},{"p":"A","g":"low","t":110.5,"s":0.16},{"p":"A","g":"low","t":112.6,"s":0.148},{"p":"A","g":"low","t":113.7,"s":0.148},{"p":"A","g":"low","t":116.6,"s":0.148},{"p":"A","g":"low","t":129.9,"s":0.13},{"p":"A","g":"low","t":131.5,"s":0.13},{"p":"A","g":"low","t":135.2,"s":0.13},{"p":"A","g":"low","t":147.6,"s":0.13},
{"p":"A","g":"high","t":2,"s":0.965},{"p":"A","g":"high","t":3.5,"s":0.935},{"p":"A","g":"high","t":4.5,"s":0.935},{"p":"A","g":"high","t":7,"s":0.925},{"p":"A","g":"high","t":8,"s":0.925},{"p":"A","g":"high","t":10,"s":0.91},{"p":"A","g":"high","t":13,"s":0.895},{"p":"A","g":"high","t":14,"s":0.895},{"p":"A","g":"high","t":16,"s":0.88},{"p":"A","g":"high","t":18,"s":0.865},{"p":"A","g":"high","t":20,"s":0.84},{"p":"A","g":"high","t":33,"s":0.7},{"p":"A","g":"high","t":43.5,"s":0.535},{"p":"A","g":"high","t":61.8,"s":0.33},{"p":"A","g":"high","t":68.2,"s":0.27},{"p":"A","g":"high","t":71.5,"s":0.235},{"p":"A","g":"high","t":73.9,"s":0.22},{"p":"A","g":"high","t":77.9,"s":0.21},{"p":"A","g":"high","t":81.9,"s":0.205},{"p":"A","g":"high","t":86,"s":0.205},{"p":"A","g":"high","t":88.4,"s":0.2},{"p":"A","g":"high","t":117.5,"s":0.093},{"p":"A","g":"high","t":124.7,"s":0.093},{"p":"A","g":"high","t":184.5,"s":0.063},
{"p":"B","g":"low","t":2.5,"s":0.975},{"p":"B","g":"low","t":4,"s":0.975},{"p":"B","g":"low","t":5,"s":0.955},{"p":"B","g":"low","t":7,"s":0.955},{"p":"B","g":"low","t":9,"s":0.945},{"p":"B","g":"low","t":10,"s":0.945},{"p":"B","g":"low","t":12,"s":0.93},{"p":"B","g":"low","t":14,"s":0.91},{"p":"B","g":"low","t":46.8,"s":0.46},{"p":"B","g":"low","t":48.5,"s":0.44},{"p":"B","g":"low","t":58,"s":0.355},{"p":"B","g":"low","t":63,"s":0.325},{"p":"B","g":"low","t":66,"s":0.32},{"p":"B","g":"low","t":72,"s":0.29},{"p":"B","g":"low","t":76,"s":0.285},{"p":"B","g":"low","t":78,"s":0.285},{"p":"B","g":"low","t":80,"s":0.28},{"p":"B","g":"low","t":81,"s":0.28},{"p":"B","g":"low","t":82,"s":0.28},{"p":"B","g":"low","t":83,"s":0.275},{"p":"B","g":"low","t":84,"s":0.275},{"p":"B","g":"low","t":85.5,"s":0.265},{"p":"B","g":"low","t":86.5,"s":0.265},{"p":"B","g":"low","t":103.6,"s":0.2},{"p":"B","g":"low","t":108.4,"s":0.185},{"p":"B","g":"low","t":110.4,"s":0.163},{"p":"B","g":"low","t":112.5,"s":0.163},{"p":"B","g":"low","t":114.7,"s":0.163},{"p":"B","g":"low","t":130.2,"s":0.144},{"p":"B","g":"low","t":131.6,"s":0.144},{"p":"B","g":"low","t":147,"s":0.144},{"p":"B","g":"low","t":184,"s":0.094},
{"p":"B","g":"high","t":1,"s":0.97},{"p":"B","g":"high","t":2,"s":0.97},{"p":"B","g":"high","t":3,"s":0.955},{"p":"B","g":"high","t":4,"s":0.955},{"p":"B","g":"high","t":5,"s":0.955},{"p":"B","g":"high","t":7,"s":0.945},{"p":"B","g":"high","t":8,"s":0.945},{"p":"B","g":"high","t":10,"s":0.935},{"p":"B","g":"high","t":12,"s":0.92},{"p":"B","g":"high","t":13,"s":0.92},{"p":"B","g":"high","t":15,"s":0.89},{"p":"B","g":"high","t":16,"s":0.89},{"p":"B","g":"high","t":18,"s":0.87},{"p":"B","g":"high","t":20,"s":0.85},{"p":"B","g":"high","t":31,"s":0.69},{"p":"B","g":"high","t":33,"s":0.69},{"p":"B","g":"high","t":52.5,"s":0.455},{"p":"B","g":"high","t":78.7,"s":0.185},{"p":"B","g":"high","t":88,"s":0.15},{"p":"B","g":"high","t":116.5,"s":0.074},{"p":"B","g":"high","t":124.5,"s":0.074},{"p":"B","g":"high","t":135.9,"s":0.047}
],
"leg":[
{"p":"A","g":"low","t":98.9,"t2":114.7,"s":0.989},{"p":"A","g":"high","t":98.9,"t2":114.7,"s":0.944},
{"p":"B","g":"low","t":103.3,"t2":118.6,"s":0.989},{"p":"B","g":"high","t":103.3,"t2":118.6,"s":0.944}
],
"lab":[
{"p":"A","k":"letter","t":-30.2,"s":1.072,"txt":"A"},{"p":"A","k":"title","t":95,"s":1.063,"txt":"Overall Survival"},
{"p":"A","k":"leg","t":117,"s":0.971,"txt":"Low FYCO1 Group"},{"p":"A","k":"leg","t":117,"s":0.925,"txt":"High FYCO1 Group"},
{"p":"A","k":"stat","t":185.3,"s":0.87,"txt":"Logrank p=0.33"},{"p":"A","k":"stat","t":185.3,"s":0.8125,"txt":"HR(high)=1.1"},{"p":"A","k":"stat","t":185.3,"s":0.758,"txt":"p(HR)=0.34"},{"p":"A","k":"stat","t":185.3,"s":0.701,"txt":"n(high)=212"},{"p":"A","k":"stat","t":185.3,"s":0.644,"txt":"n(low)=212"},
{"p":"B","k":"letter","t":-36.5,"s":1.072,"txt":"B"},{"p":"B","k":"title","t":94.8,"s":1.063,"txt":"Overall Survival"},
{"p":"B","k":"leg","t":121.3,"s":0.971,"txt":"Low PURA Group"},{"p":"B","k":"leg","t":121.3,"s":0.925,"txt":"High PURA Group"},
{"p":"B","k":"stat","t":184.8,"s":0.87,"txt":"Logrank p=0.26"},{"p":"B","k":"stat","t":184.8,"s":0.8125,"txt":"HR(high)=1.1"},{"p":"B","k":"stat","t":184.8,"s":0.758,"txt":"p(HR)=0.27"},{"p":"B","k":"stat","t":184.8,"s":0.701,"txt":"n(high)=209"},{"p":"B","k":"stat","t":184.8,"s":0.644,"txt":"n(low)=212"}
]
},
"hconcat":[
{
"width":393,"height":361,
"encoding":{
"x":{"field":"t","type":"quantitative","scale":{"domain":[0,190],"nice":false,"zero":false},"axis":{"title":"Months","values":[0,50,100,150]}},
"y":{"field":"s","type":"quantitative","scale":{"domain":[-0.04,1.04],"nice":false,"zero":false},"axis":{"title":"Percent survival","values":[0,0.2,0.4,0.6,0.8,1],"format":".1f"}}
},
"layer":[
{"data":{"name":"km"},"transform":[{"filter":"datum.p==='A' && datum.g==='low' && datum.k!=='curve'"}],"mark":{"type":"line","interpolate":"step-after","color":"#2951A3","strokeWidth":2.2,"strokeDash":[2,7]},"encoding":{"detail":{"field":"k"}}},
{"data":{"name":"km"},"transform":[{"filter":"datum.p==='A' && datum.g==='high' && datum.k!=='curve'"}],"mark":{"type":"line","interpolate":"step-after","color":"#ED1C24","strokeWidth":2.2,"strokeDash":[2,7]},"encoding":{"detail":{"field":"k"}}},
{"data":{"name":"km"},"transform":[{"filter":"datum.p==='A' && datum.g==='low' && datum.k==='curve'"}],"mark":{"type":"line","interpolate":"step-after","color":"#2951A3","strokeWidth":3.5}},
{"data":{"name":"cens"},"transform":[{"filter":"datum.p==='A' && datum.g==='low'"}],"mark":{"type":"point","shape":"M-1,0L1,0M0,-1L0,1","size":90,"filled":false,"strokeWidth":1.8,"color":"#2951A3","opacity":1}},
{"data":{"name":"km"},"transform":[{"filter":"datum.p==='A' && datum.g==='high' && datum.k==='curve'"}],"mark":{"type":"line","interpolate":"step-after","color":"#ED1C24","strokeWidth":3.5}},
{"data":{"name":"cens"},"transform":[{"filter":"datum.p==='A' && datum.g==='high'"}],"mark":{"type":"point","shape":"M-1,0L1,0M0,-1L0,1","size":90,"filled":false,"strokeWidth":1.8,"color":"#ED1C24","opacity":1}},
{"data":{"name":"leg"},"transform":[{"filter":"datum.p==='A'"}],"mark":{"type":"rule","strokeWidth":4},"encoding":{"x2":{"field":"t2"},"color":{"field":"g","type":"nominal","scale":{"domain":["low","high"],"range":["#2951A3","#ED1C24"]},"legend":null}}},
{"data":{"name":"lab"},"transform":[{"filter":"datum.p==='A' && datum.k==='letter'"}],"mark":{"type":"text","font":"Liberation Sans","fontSize":25,"align":"left","baseline":"alphabetic","color":"#000"},"encoding":{"text":{"field":"txt"}}},
{"data":{"name":"lab"},"transform":[{"filter":"datum.p==='A' && datum.k==='title'"}],"mark":{"type":"text","font":"Liberation Sans","fontSize":23.5,"align":"center","baseline":"alphabetic","color":"#000"},"encoding":{"text":{"field":"txt"}}},
{"data":{"name":"lab"},"transform":[{"filter":"datum.p==='A' && datum.k==='leg'"}],"mark":{"type":"text","font":"Liberation Sans","fontSize":15,"align":"left","baseline":"alphabetic","color":"#000"},"encoding":{"text":{"field":"txt"}}},
{"data":{"name":"lab"},"transform":[{"filter":"datum.p==='A' && datum.k==='stat'"}],"mark":{"type":"text","font":"Liberation Sans","fontSize":16,"align":"right","baseline":"alphabetic","color":"#000"},"encoding":{"text":{"field":"txt"}}}
]
},
{
"width":393,"height":361,
"encoding":{
"x":{"field":"t","type":"quantitative","scale":{"domain":[0,190],"nice":false,"zero":false},"axis":{"title":"Months","values":[0,50,100,150]}},
"y":{"field":"s","type":"quantitative","scale":{"domain":[-0.04,1.04],"nice":false,"zero":false},"axis":{"title":"Percent survival","values":[0,0.2,0.4,0.6,0.8,1],"format":".1f"}}
},
"layer":[
{"data":{"name":"km"},"transform":[{"filter":"datum.p==='B' && datum.g==='low' && datum.k!=='curve'"}],"mark":{"type":"line","interpolate":"step-after","color":"#2951A3","strokeWidth":2.2,"strokeDash":[2,7]},"encoding":{"detail":{"field":"k"}}},
{"data":{"name":"km"},"transform":[{"filter":"datum.p==='B' && datum.g==='high' && datum.k!=='curve'"}],"mark":{"type":"line","interpolate":"step-after","color":"#ED1C24","strokeWidth":2.2,"strokeDash":[2,7]},"encoding":{"detail":{"field":"k"}}},
{"data":{"name":"km"},"transform":[{"filter":"datum.p==='B' && datum.g==='low' && datum.k==='curve'"}],"mark":{"type":"line","interpolate":"step-after","color":"#2951A3","strokeWidth":3.5}},
{"data":{"name":"cens"},"transform":[{"filter":"datum.p==='B' && datum.g==='low'"}],"mark":{"type":"point","shape":"M-1,0L1,0M0,-1L0,1","size":90,"filled":false,"strokeWidth":1.8,"color":"#2951A3","opacity":1}},
{"data":{"name":"km"},"transform":[{"filter":"datum.p==='B' && datum.g==='high' && datum.k==='curve'"}],"mark":{"type":"line","interpolate":"step-after","color":"#ED1C24","strokeWidth":3.5}},
{"data":{"name":"cens"},"transform":[{"filter":"datum.p==='B' && datum.g==='high'"}],"mark":{"type":"point","shape":"M-1,0L1,0M0,-1L0,1","size":90,"filled":false,"strokeWidth":1.8,"color":"#ED1C24","opacity":1}},
{"data":{"name":"leg"},"transform":[{"filter":"datum.p==='B'"}],"mark":{"type":"rule","strokeWidth":4},"encoding":{"x2":{"field":"t2"},"color":{"field":"g","type":"nominal","scale":{"domain":["low","high"],"range":["#2951A3","#ED1C24"]},"legend":null}}},
{"data":{"name":"lab"},"transform":[{"filter":"datum.p==='B' && datum.k==='letter'"}],"mark":{"type":"text","font":"Liberation Sans","fontSize":25,"align":"left","baseline":"alphabetic","color":"#000"},"encoding":{"text":{"field":"txt"}}},
{"data":{"name":"lab"},"transform":[{"filter":"datum.p==='B' && datum.k==='title'"}],"mark":{"type":"text","font":"Liberation Sans","fontSize":23.5,"align":"center","baseline":"alphabetic","color":"#000"},"encoding":{"text":{"field":"txt"}}},
{"data":{"name":"lab"},"transform":[{"filter":"datum.p==='B' && datum.k==='leg'"}],"mark":{"type":"text","font":"Liberation Sans","fontSize":15,"align":"left","baseline":"alphabetic","color":"#000"},"encoding":{"text":{"field":"txt"}}},
{"data":{"name":"lab"},"transform":[{"filter":"datum.p==='B' && datum.k==='stat'"}],"mark":{"type":"text","font":"Liberation Sans","fontSize":16,"align":"right","baseline":"alphabetic","color":"#000"},"encoding":{"text":{"field":"txt"}}}
]
}
],
"config":{
"view":{"stroke":"#000","strokeWidth":1.8},
"axis":{"domain":false,"grid":false,"ticks":true,"tickSize":10,"tickWidth":1.5,"tickColor":"#000","labelColor":"#000","labelFont":"Liberation Sans","labelFontSize":15,"labelFlush":false,"labelOverlap":false,"titleFont":"Liberation Sans","titleFontSize":20.5,"titleFontWeight":"normal","titleColor":"#000"},
"axisX":{"labelBaseline":"alphabetic","labelPadding":24,"titleBaseline":"alphabetic","titleAlign":"center","titleX":196.5,"titleY":62.3},
"axisY":{"labelAngle":-90,"labelAlign":"center","labelBaseline":"alphabetic","labelPadding":13,"titleAngle":-90,"titleBaseline":"alphabetic","titleAlign":"center","titleX":-52.3,"titleY":180.5}
}
}
